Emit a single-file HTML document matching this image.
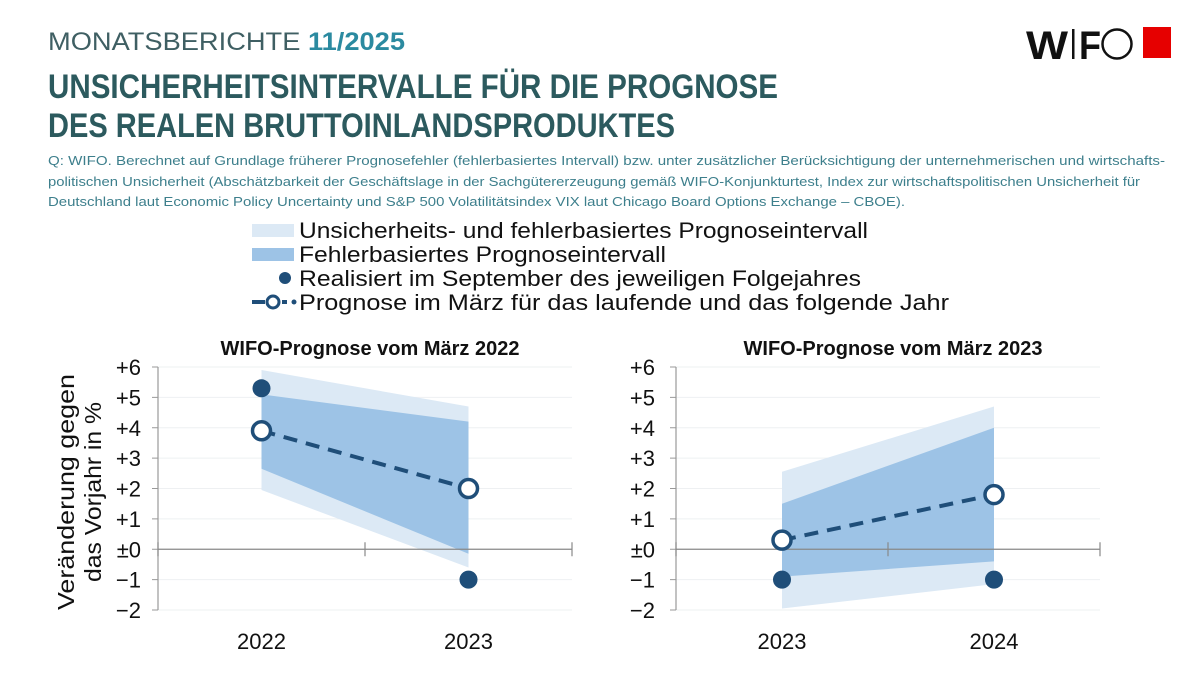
<!DOCTYPE html>
<html><head><meta charset="utf-8"><style>
html,body{margin:0;padding:0;background:#fff;}
svg{display:block;font-family:"Liberation Sans",sans-serif;}
</style></head><body>
<svg id="page" width="1200" height="675" viewBox="0 0 1200 675">
<text x="48" y="50" font-size="25" fill="#3f5f63" textLength="357" lengthAdjust="spacingAndGlyphs">MONATSBERICHTE <tspan font-weight="bold" fill="#2b8aa0">11/2025</tspan></text>
<g>
<text x="1026" y="59" font-size="40" font-weight="bold" fill="#111" textLength="42" lengthAdjust="spacingAndGlyphs">W</text>
<rect x="1072" y="29" width="2.5" height="30" fill="#111"/>
<text x="1079" y="59" font-size="40" font-weight="bold" fill="#111" textLength="22" lengthAdjust="spacingAndGlyphs">F</text>
<circle cx="1117" cy="44" r="14.5" fill="none" stroke="#111" stroke-width="2.5"/>
<rect x="1143" y="27" width="28" height="31" fill="#e60000"/>
</g>
<text x="48" y="98" font-size="34" font-weight="bold" fill="#2c5a5e" textLength="730" lengthAdjust="spacingAndGlyphs">UNSICHERHEITSINTERVALLE FÜR DIE PROGNOSE</text>
<text x="48" y="137" font-size="34" font-weight="bold" fill="#2c5a5e" textLength="627" lengthAdjust="spacingAndGlyphs">DES REALEN BRUTTOINLANDSPRODUKTES</text>
<g font-size="13" fill="#3d7f8c">
<text x="48" y="165" textLength="1117" lengthAdjust="spacingAndGlyphs">Q: WIFO. Berechnet auf Grundlage früherer Prognosefehler (fehlerbasiertes Intervall) bzw. unter zusätzlicher Berücksichtigung der unternehmerischen und wirtschafts-</text>
<text x="48" y="186" textLength="1092" lengthAdjust="spacingAndGlyphs">politischen Unsicherheit (Abschätzbarkeit der Geschäftslage in der Sachgütererzeugung gemäß WIFO-Konjunkturtest, Index zur wirtschaftspolitischen Unsicherheit für</text>
<text x="48" y="206" textLength="857" lengthAdjust="spacingAndGlyphs">Deutschland laut Economic Policy Uncertainty und S&amp;P 500 Volatilitätsindex VIX laut Chicago Board Options Exchange – CBOE).</text>
</g>
<g font-size="22" fill="#111">
<g><rect x="252" y="224" width="42" height="13" fill="#dce9f5"/><text x="299" y="238" textLength="569" lengthAdjust="spacingAndGlyphs">Unsicherheits- und fehlerbasiertes Prognoseintervall</text></g>
<g><rect x="252" y="248" width="42" height="13" fill="#9dc3e6"/><text x="299" y="262" textLength="367" lengthAdjust="spacingAndGlyphs">Fehlerbasiertes Prognoseintervall</text></g>
<g><circle cx="285" cy="278" r="6" fill="#1f4e79"/><text x="299" y="286" textLength="562" lengthAdjust="spacingAndGlyphs">Realisiert im September des jeweiligen Folgejahres</text></g>
<g><line x1="252" y1="302" x2="265" y2="302" stroke="#1f4e79" stroke-width="4"/><circle cx="273" cy="302" r="6" fill="#fff" stroke="#1f4e79" stroke-width="3"/><line x1="282" y1="302" x2="287" y2="302" stroke="#1f4e79" stroke-width="4"/><circle cx="294" cy="302" r="2.5" fill="#1f4e79"/><text x="299" y="310" textLength="650" lengthAdjust="spacingAndGlyphs">Prognose im März für das laufende und das folgende Jahr</text></g>
</g>
<g font-size="23" fill="#111">
<text transform="translate(74,492) rotate(-90)" text-anchor="middle" textLength="236" lengthAdjust="spacingAndGlyphs">Veränderung gegen</text>
<text transform="translate(101,492) rotate(-90)" text-anchor="middle" textLength="180" lengthAdjust="spacingAndGlyphs">das Vorjahr in %</text>
</g>
<g id="c1"></g><g id="c2"></g>
</svg>
<script>
const yTicks = [6,5,4,3,2,1,0,-1,-2];
const yTickLabels = ["+6","+5","+4","+3","+2","+1","±0","−1","−2"];
const c1Title = "WIFO-Prognose vom März 2022";
const c1Categories = ["2022","2023"];
const c1OuterHigh = [5.9, 4.7];
const c1OuterLow = [1.95, -0.6];
const c1InnerHigh = [5.1, 4.2];
const c1InnerLow = [2.65, -0.15];
const c1Forecast = [3.9, 2.0];
const c1Realized = [5.3, -1.0];
const c2Title = "WIFO-Prognose vom März 2023";
const c2Categories = ["2023","2024"];
const c2OuterHigh = [2.55, 4.7];
const c2OuterLow = [-1.95, -1.15];
const c2InnerHigh = [1.5, 4.0];
const c2InnerLow = [-0.9, -0.4];
const c2Forecast = [0.3, 1.8];
const c2Realized = [-1.0, -1.0];

const NS="http://www.w3.org/2000/svg";
function mk(parent,tag,attrs,text){const e=document.createElementNS(NS,tag);for(const k in attrs)e.setAttribute(k,attrs[k]);if(text!==undefined)e.textContent=text;parent.appendChild(e);return e;}

function draw(gid,x0,x1,title,cats,oh,ol,ih,il,fc,rz,labelX){
  const g=document.getElementById(gid);
  const yTop=367,yBot=610,yMin=-2,yMax=6;
  const y=v=>yTop+(yMax-v)/(yMax-yMin)*(yBot-yTop);
  const n=cats.length;const bw=(x1-x0)/n;
  const x=i=>x0+bw*(i+0.5);
  const t=mk(g,'text',{x:(x0+x1)/2+5,y:355,'text-anchor':'middle','font-size':20,'font-weight':'bold',fill:'#111'},title);
  
  
  yTicks.forEach((v,i)=>{
    if(v!==0){const gl=mk(g,'line',{x1:x0,x2:x1,y1:y(v),y2:y(v),stroke:'#eef0f2','stroke-width':1});
      
      }
    const tk=mk(g,'line',{x1:x0-6,x2:x0,y1:y(v),y2:y(v),stroke:'#999','stroke-width':1});
    
    
    const tl=mk(g,'text',{x:labelX,y:y(v)+8,'text-anchor':'end','font-size':22,fill:'#111'},yTickLabels[i]);
    
    
  });
  const ax=mk(g,'line',{x1:x0,x2:x0,y1:yTop,y2:yBot,stroke:'#999','stroke-width':1.2});
  
  
  const outer=mk(g,'polygon',{points:`${x(0)},${y(oh[0])} ${x(1)},${y(oh[1])} ${x(1)},${y(ol[1])} ${x(0)},${y(ol[0])}`,fill:'#dce9f5'});
  
  
  const inner=mk(g,'polygon',{points:`${x(0)},${y(ih[0])} ${x(1)},${y(ih[1])} ${x(1)},${y(il[1])} ${x(0)},${y(il[0])}`,fill:'#9dc3e6'});
  
  
  const zx=mk(g,'line',{x1:x0,x2:x1,y1:y(0),y2:y(0),stroke:'#888','stroke-width':1.2});
  
  
  for(let i=0;i<=n;i++){const xt=mk(g,'line',{x1:x0+bw*i,x2:x0+bw*i,y1:y(0)-7,y2:y(0)+7,stroke:'#888','stroke-width':1.2});
    
    }
  cats.forEach((c,i)=>{const cl=mk(g,'text',{x:x(i),y:649,'text-anchor':'middle','font-size':22,fill:'#111'},c);
    
    });
  const ln=mk(g,'line',{x1:x(0),y1:y(fc[0]),x2:x(1),y2:y(fc[1]),stroke:'#1f4e79','stroke-width':4,'stroke-dasharray':'14 9'});
  
  
  rz.forEach((v,i)=>{const c=mk(g,'circle',{cx:x(i),cy:y(v),r:9,fill:'#1f4e79'});
    
    });
  fc.forEach((v,i)=>{const c=mk(g,'circle',{cx:x(i),cy:y(v),r:9,fill:'#fff',stroke:'#1f4e79','stroke-width':3.5});
    
    });
}
draw('c1',158,572,c1Title,c1Categories,c1OuterHigh,c1OuterLow,c1InnerHigh,c1InnerLow,c1Forecast,c1Realized,141);
draw('c2',676,1100,c2Title,c2Categories,c2OuterHigh,c2OuterLow,c2InnerHigh,c2InnerLow,c2Forecast,c2Realized,655);
</script>
</body></html>
